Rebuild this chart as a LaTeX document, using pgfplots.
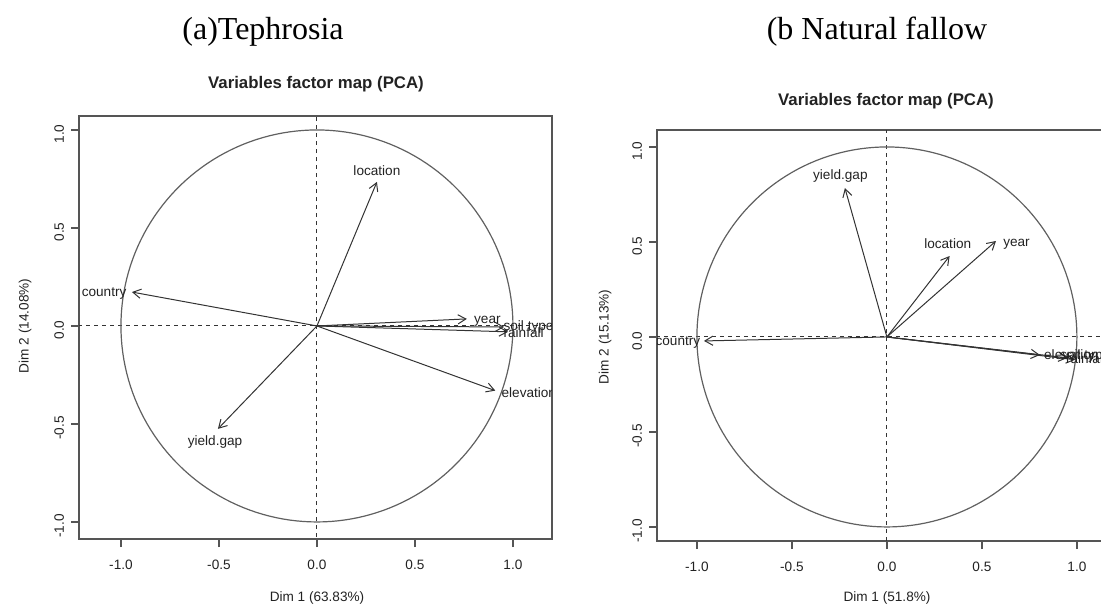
\documentclass[border=0pt]{standalone}
\usepackage{fontspec}
\setmainfont{Liberation Sans}
\newfontfamily\timesfont{Liberation Serif}
\usepackage{pgfplots}
\pgfplotsset{compat=1.18}
\usetikzlibrary{arrows.meta}
\definecolor{boxgray}{HTML}{555555}
\definecolor{circgray}{HTML}{606060}
\definecolor{arrgray}{HTML}{333333}
\definecolor{textgray}{HTML}{222222}
\tikzset{lab/.style={font=\fontsize{6.8}{8}\selectfont, text=textgray, inner sep=1pt}}
\pgfplotsset{
  pca/.style={
    anchor=south west,
    axis line style={boxgray, line width=0.6pt},
    tick align=outside, major tick length=4pt,
    tick style={boxgray, line width=0.6pt},
    xtick={-1,-0.5,0,0.5,1}, ytick={-1,-0.5,0,0.5,1},
    xtick pos=lower, ytick pos=left,
    ticklabel style={font=\fontsize{6.8}{8}\selectfont, text=textgray},
    /pgf/number format/.cd, fixed, fixed zerofill, precision=1, assume math mode=true, /pgfplots/.cd,
    xticklabel style={anchor=north, yshift=-3pt},
    yticklabel style={rotate=90, anchor=south, xshift=-2pt},
    clip=true,
  },
  arr/.style={arrgray, line width=0.5pt, -{Straight Barb[length=4pt,width=4.6pt]}},
  dsh/.style={arrgray, line width=0.5pt, dash pattern=on 2pt off 2pt},
  circ/.style={circgray, line width=0.6pt, domain=0:360, samples=181},
}
\begin{document}
\begin{tikzpicture}
\clip (0,0) rectangle (550.5pt,303.5pt);
\path[use as bounding box] (0,0) rectangle (550.5pt,303.5pt);

% ---------- (a) Tephrosia ----------
\begin{axis}[pca, at={(39.5pt,34pt)}, x=98pt, y=98pt,
  xmin=-1.214, xmax=1.199, ymin=-1.087, ymax=1.071]
\addplot[dsh] coordinates {(-1.3,0) (1.3,0)};
\addplot[dsh] coordinates {(0,-1.2) (0,1.2)};
\addplot[circ] ({cos(x)},{sin(x)});
\addplot[arr] coordinates {(0,0) (0.306,0.735)};
\addplot[arr] coordinates {(0,0) (-0.944,0.173)};
\addplot[arr] coordinates {(0,0) (0.765,0.036)};
\addplot[arr] coordinates {(0,0) (0.955,-0.005)};
\addplot[arr] coordinates {(0,0) (0.975,-0.030)};
\addplot[arr] coordinates {(0,0) (0.910,-0.330)};
\addplot[arr] coordinates {(0,0) (-0.505,-0.525)};
\node[lab, anchor=south] at (axis cs:0.306,0.755) {location};
\node[lab, anchor=east] at (axis cs:-0.96,0.168) {country};
\node[lab, anchor=west] at (axis cs:0.79,0.025) {year};
\node[lab, anchor=west] at (axis cs:0.94,-0.005) {soil type};
\node[lab, anchor=west] at (axis cs:0.94,-0.035) {rainfall};
\node[lab, anchor=west] at (axis cs:0.93,-0.338) {elevation};
\node[lab, anchor=north] at (axis cs:-0.52,-0.545) {yield.gap};
\end{axis}

% ---------- (b) Natural fallow ----------
\begin{axis}[pca, at={(328.5pt,33pt)}, x=95pt, y=95pt,
  xmin=-1.21, xmax=1.25, ymin=-1.074, ymax=1.089]
\addplot[dsh] coordinates {(-1.3,0) (1.3,0)};
\addplot[dsh] coordinates {(0,-1.2) (0,1.2)};
\addplot[circ] ({cos(x)},{sin(x)});
\addplot[arr] coordinates {(0,0) (-0.221,0.784)};
\addplot[arr] coordinates {(0,0) (0.330,0.426)};
\addplot[arr] coordinates {(0,0) (0.574,0.505)};
\addplot[arr] coordinates {(0,0) (-0.963,-0.021)};
\addplot[arr] coordinates {(0,0) (0.805,-0.095)};
\addplot[arr] coordinates {(0,0) (0.950,-0.110)};
\addplot[arr] coordinates {(0,0) (0.990,-0.120)};
\node[lab, anchor=south] at (axis cs:-0.245,0.80) {yield.gap};
\node[lab, anchor=south] at (axis cs:0.32,0.45) {location};
\node[lab, anchor=west] at (axis cs:0.60,0.49) {year};
\node[lab, anchor=east] at (axis cs:-0.97,-0.03) {country};
\node[lab, anchor=west] at (axis cs:0.815,-0.095) {elevation};
\node[lab, anchor=west] at (axis cs:0.90,-0.100) {soil type};
\node[lab, anchor=west] at (axis cs:0.93,-0.115) {rainfall};
\end{axis}

% ---------- titles and axis labels ----------
\node[font=\timesfont\fontsize{16}{18}\selectfont] at (131.5pt,287.5pt) {(a)Tephrosia};
\node[font=\timesfont\fontsize{16}{18}\selectfont] at (438.5pt,287.5pt) {(b Natural fallow};
\node[font=\bfseries\fontsize{8.4}{10}\selectfont, text=textgray] at (158pt,261.5pt) {Variables factor map (PCA)};
\node[font=\bfseries\fontsize{8.4}{10}\selectfont, text=textgray] at (443pt,253pt) {Variables factor map (PCA)};
\node[font=\fontsize{6.8}{8}\selectfont, text=textgray] at (158.5pt,4.5pt) {Dim 1 (63.83\%)};
\node[font=\fontsize{6.8}{8}\selectfont, text=textgray] at (443.5pt,4.5pt) {Dim 1 (51.8\%)};
\node[font=\fontsize{6.8}{8}\selectfont, text=textgray, rotate=90] at (12.5pt,140.5pt) {Dim 2 (14.08\%)};
\node[font=\fontsize{6.8}{8}\selectfont, text=textgray, rotate=90] at (302.5pt,135pt) {Dim 2 (15.13\%)};
\end{tikzpicture}
\end{document}
